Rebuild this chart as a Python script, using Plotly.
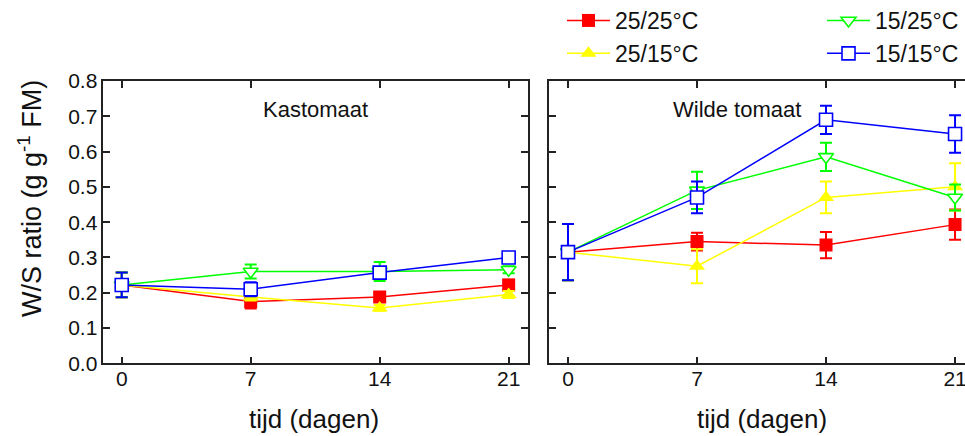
import plotly.graph_objects as go

# Days after start of treatment
days = [0, 7, 14, 21]

# Treatment labels (day/night temperature)
treatments = ["25/25°C", "25/15°C", "15/25°C", "15/15°C"]

# Kastomaat: W/S ratio (g g-1 FM) per treatment
kas_2525 = [0.222, 0.175, 0.188, 0.222]
kas_2515 = [0.222, 0.188, 0.157, 0.195]
kas_1525 = [0.222, 0.260, 0.260, 0.265]
kas_1515 = [0.222, 0.210, 0.257, 0.300]

kas_2525_err = [0.035, 0.020, 0.012, 0.015]
kas_2515_err = [0.035, 0.010, 0.008, 0.010]
kas_1525_err = [0.035, 0.020, 0.027, 0.010]
kas_1515_err = [0.035, 0.020, 0.015, 0.010]

# Wilde tomaat: W/S ratio (g g-1 FM) per treatment
wild_2525 = [0.315, 0.345, 0.335, 0.393]
wild_2515 = [0.315, 0.275, 0.470, 0.500]
wild_1525 = [0.315, 0.490, 0.585, 0.470]
wild_1515 = [0.315, 0.470, 0.690, 0.650]

wild_2525_err = [0.080, 0.025, 0.037, 0.043]
wild_2515_err = [0.080, 0.048, 0.045, 0.067]
wild_1525_err = [0.080, 0.053, 0.040, 0.037]
wild_1515_err = [0.080, 0.045, 0.040, 0.053]

y_ticks = [0.0, 0.1, 0.2, 0.3, 0.4, 0.5, 0.6, 0.7, 0.8]

W, H = 965, 436
FONT = "Liberation Sans"

colors = ["#ff0000", "#ffff00", "#00ff00", "#0000ff"]
symbols = ["square", "triangle-up", "triangle-down", "square"]
fills = ["#ff0000", "#ffff00", "#ffffff", "#ffffff"]
outlined = [False, False, True, True]
sizes = [13, 14, 13, 13]


def px_x(p):
    return p / W


def px_y(p):
    return 1 - p / H


fig = go.Figure()

panels = [
    ("x", "y", [kas_2525, kas_2515, kas_1525, kas_1515],
     [kas_2525_err, kas_2515_err, kas_1525_err, kas_1515_err], False),
    ("x2", "y2", [wild_2525, wild_2515, wild_1525, wild_1515],
     [wild_2525_err, wild_2515_err, wild_1525_err, wild_1515_err], True),
]

for xa, ya, series, errors, show in panels:
    for i, (name, vals, err) in enumerate(zip(treatments, series, errors)):
        fig.add_trace(go.Scatter(
            x=days, y=vals, name=name, xaxis=xa, yaxis=ya,
            mode="lines+markers",
            line=dict(color=colors[i], width=1.5),
            marker=dict(
                symbol=symbols[i], size=sizes[i], color=fills[i],
                line=dict(color=colors[i], width=1.6 if outlined[i] else 0),
            ),
            error_y=dict(type="data", array=err, visible=True,
                         color=colors[i], thickness=2, width=6),
            showlegend=show,
            legend="legend" if i < 2 else "legend2",
        ))

axis_common = dict(
    showline=True, linecolor="#222222", linewidth=1.5,
    ticks="inside", ticklen=7, tickwidth=1.5, tickcolor="#222222",
    showgrid=False, zeroline=False, ticklabeloverflow="allow",
    tickfont=dict(family=FONT, size=21, color="#111111"),
)

legend_font = dict(family=FONT, size=23, color="#111111")
title_font = dict(family=FONT, size=26, color="#111111")
panel_font = dict(family=FONT, size=22, color="#111111")

fig.update_layout(
    width=W, height=H,
    margin=dict(l=0, r=0, t=0, b=0, autoexpand=False),
    paper_bgcolor="white", plot_bgcolor="white",
    font=dict(family=FONT, color="#111111"),
    xaxis=dict(domain=[px_x(103.3), px_x(528)], range=[-1, 22.05],
               tickvals=days, mirror="ticks", anchor="y",
               ticklabelstandoff=-4, **axis_common),
    yaxis=dict(domain=[px_y(363.3), px_y(81)], range=[0, 0.8],
               tickvals=y_ticks, tickformat=".1f", mirror="ticks",
               anchor="x", **axis_common),
    xaxis2=dict(domain=[px_x(549), 1.0], range=[-1.03, 21.54],
                tickvals=days, mirror="ticks", anchor="y2",
                ticklabelstandoff=-4, **axis_common),
    yaxis2=dict(domain=[px_y(363.3), px_y(81)], range=[0, 0.8],
                tickvals=y_ticks, showticklabels=False, mirror=False,
                anchor="x2", **axis_common),
    legend=dict(x=px_x(562), y=px_y(-1), xanchor="left", yanchor="top",
                orientation="v", itemwidth=43, bgcolor="rgba(0,0,0,0)",
                tracegroupgap=0, font=legend_font),
    legend2=dict(x=px_x(822), y=px_y(-1), xanchor="left", yanchor="top",
                 orientation="v", itemwidth=43, bgcolor="rgba(0,0,0,0)",
                 tracegroupgap=0, font=legend_font),
    annotations=[
        dict(text="Kastomaat", xref="paper", yref="paper",
             x=px_x(315.5), y=px_y(110), xanchor="center", yanchor="middle",
             showarrow=False, font=panel_font),
        dict(text="Wilde tomaat", xref="paper", yref="paper",
             x=px_x(737), y=px_y(109.5), xanchor="center", yanchor="middle",
             showarrow=False, font=panel_font),
        dict(text="tijd (dagen)", xref="paper", yref="paper",
             x=px_x(313.5), y=px_y(419), xanchor="center", yanchor="middle",
             showarrow=False, font=title_font),
        dict(text="tijd (dagen)", xref="paper", yref="paper",
             x=px_x(762), y=px_y(419), xanchor="center", yanchor="middle",
             showarrow=False, font=title_font),
        dict(text="W/S ratio (g g<sup>-1</sup> FM)", xref="paper", yref="paper",
             x=px_x(30), y=px_y(199), xanchor="center", yanchor="middle",
             textangle=-90, showarrow=False,
             font=dict(family=FONT, size=27, color="#111111")),
    ],
)

fig.write_html("out.html")
